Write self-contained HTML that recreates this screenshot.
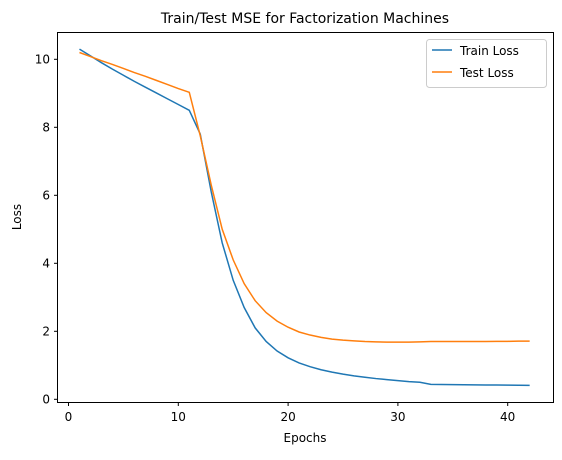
<!DOCTYPE html>
<html><head><meta charset="utf-8"><style>
body{margin:0;background:#fff;font-family:"Liberation Sans","DejaVu Sans",sans-serif}
svg text{font-family:"DejaVu Sans","Liberation Sans",sans-serif;fill:#000}
</style></head><body>
<svg id="chart" width="562" height="455">
<text x="305" y="23" font-size="14" text-anchor="middle">Train/Test MSE for Factorization Machines</text>
<g id="axes"></g>
<g id="lines"></g>
<rect x="57.5" y="32.5" width="496" height="370" fill="none" stroke="#000" stroke-width="1"/>
<text x="305" y="442" font-size="12" text-anchor="middle">Epochs</text>
<text x="21" y="217" font-size="12" text-anchor="middle" transform="rotate(-90 21 217)">Loss</text>
<g>
<rect x="426.5" y="39.5" width="120" height="48" rx="3" fill="#fff" stroke="#ccc"/>
<line x1="432" y1="50" x2="452" y2="50" stroke="#1f77b4" stroke-width="1.5"/>
<text x="460" y="55" font-size="12">Train Loss</text>
<line x1="432" y1="72" x2="452" y2="72" stroke="#ff7f0e" stroke-width="1.5"/>
<text x="460" y="77" font-size="12">Test Loss</text>
</g>
</svg>
<script>
const epochs=[1,2,3,4,5,6,7,8,9,10,11,12,13,14,15,16,17,18,19,20,21,22,23,24,25,26,27,28,29,30,31,32,33,34,35,36,37,38,39,40,41,42];
const trainLoss=[10.3,10.1,9.9,9.71,9.53,9.35,9.18,9.01,8.84,8.67,8.5,7.8,6.1,4.6,3.5,2.7,2.1,1.7,1.42,1.22,1.07,0.96,0.87,0.8,0.74,0.69,0.65,0.61,0.58,0.55,0.52,0.5,0.44,0.435,0.43,0.428,0.425,0.422,0.42,0.418,0.415,0.41];
const testLoss=[10.2,10.08,9.96,9.85,9.73,9.61,9.5,9.38,9.26,9.14,9.03,7.75,6.3,5.0,4.1,3.4,2.9,2.55,2.3,2.12,1.98,1.89,1.82,1.77,1.74,1.72,1.7,1.69,1.68,1.68,1.68,1.69,1.7,1.7,1.7,1.7,1.7,1.7,1.705,1.705,1.71,1.71];
const xTicks=[0,10,20,30,40];
const yTicks=[0,2,4,6,8,10];
const NS="http://www.w3.org/2000/svg";
function xs(v){return 68.5+v*10.98;}
function ys(v){return 399.3-v*34;}
const axes=document.getElementById('axes');
xTicks.forEach(t=>{
 const l=document.createElementNS(NS,'line');
 l.setAttribute('x1',xs(t));l.setAttribute('x2',xs(t));l.setAttribute('y1',402.5);l.setAttribute('y2',406);l.setAttribute('stroke','#000');
 
 
 axes.appendChild(l);
 const tx=document.createElementNS(NS,'text');
 tx.setAttribute('x',xs(t));tx.setAttribute('y',421);tx.setAttribute('font-size','12');tx.setAttribute('text-anchor','middle');tx.textContent=t;
 
 
 axes.appendChild(tx);
});
yTicks.forEach(t=>{
 const l=document.createElementNS(NS,'line');
 l.setAttribute('x1',54);l.setAttribute('x2',57.5);l.setAttribute('y1',ys(t));l.setAttribute('y2',ys(t));l.setAttribute('stroke','#000');
 
 
 axes.appendChild(l);
 const tx=document.createElementNS(NS,'text');
 tx.setAttribute('x',50);tx.setAttribute('y',ys(t)+4);tx.setAttribute('font-size','12');tx.setAttribute('text-anchor','end');tx.textContent=t;
 
 
 axes.appendChild(tx);
});
const lines=document.getElementById('lines');
function draw(vals,color,name){
 const p=document.createElementNS(NS,'polyline');
 p.setAttribute('points',vals.map((v,i)=>xs(epochs[i])+','+ys(v)).join(' '));
 p.setAttribute('fill','none');p.setAttribute('stroke',color);p.setAttribute('stroke-width','1.5');
 
 
 lines.appendChild(p);
}
draw(trainLoss,'#1f77b4','train-loss-line');
draw(testLoss,'#ff7f0e','test-loss-line');
</script>
</body></html>
